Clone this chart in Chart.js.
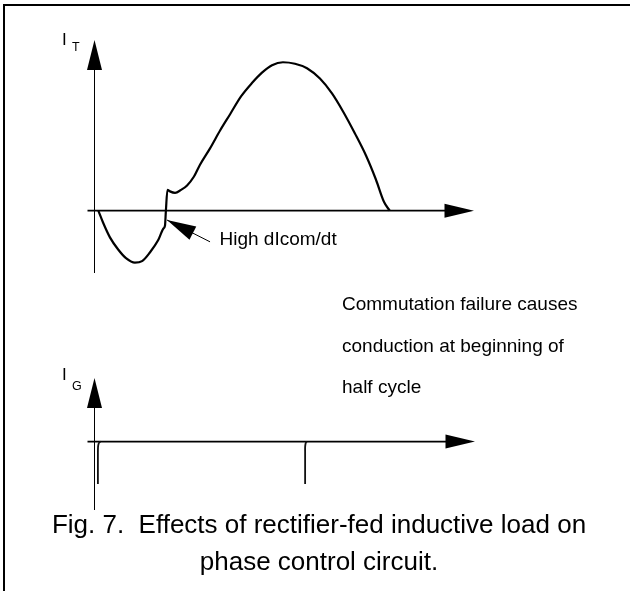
<!DOCTYPE html>
<html>
<head>
<meta charset="utf-8">
<script src="https://cdn.jsdelivr.net/npm/chart.js@4.4.1/dist/chart.umd.min.js"></script>
<style>
  html, body { margin: 0; padding: 0; background: #fff; }
  #figure { position: relative; width: 630px; height: 591px; overflow: hidden;
            font-family: "Liberation Sans", Arial, sans-serif; color: #000; }
  #frame { position: absolute; left: 3px; top: 4px; width: 700px; height: 700px;
           border-left: 2px solid #000; border-top: 2px solid #000; }
  canvas { position: absolute; left: 0; }
  .txt { position: absolute; white-space: nowrap; line-height: 1; z-index: 2; }
</style>
</head>
<body>
<div id="figure">
  <div id="frame"></div>
  <canvas id="itChart" width="630" height="300" style="top:0"></canvas>
  <canvas id="igChart" width="630" height="230" style="top:300px"></canvas>

  <div class="txt" style="left:62px; top:31px; font-size:17px">I</div>
  <div class="txt" style="left:72px; top:41px; font-size:12.5px">T</div>
  <div class="txt" style="left:62px; top:366px; font-size:17px">I</div>
  <div class="txt" style="left:72px; top:380px; font-size:12.5px">G</div>

  <div class="txt" style="left:219.5px; top:229px; font-size:19px">High dIcom/dt</div>
  <div class="txt" style="left:342px; top:283px; font-size:19px; line-height:41.5px">
    Commutation failure causes<br>conduction at beginning of<br>half cycle
  </div>

  <div class="txt" style="left:4px; width:630px; top:506px; font-size:26px; line-height:37px; text-align:center">
    Fig. 7.&nbsp; Effects of rectifier-fed inductive load on<br>phase control circuit.
  </div>
</div>

<script>
// courant anodique I_T (temps en ms, courant normalisé)
const itTime = [0.15, 0.36, 0.67, 1.03, 1.39, 1.79, 2.11, 2.47, 2.83, 3.07, 3.14, 3.18, 3.25,
                3.36, 3.59, 3.86, 4.13, 4.44, 4.71, 5.16, 5.61, 6.06, 6.55, 7.04, 7.49, 7.94,
                8.43, 8.97, 9.51, 10.09, 10.63, 11.12, 11.66, 12.16, 12.60, 12.96, 13.22];
const itValue = [0, -0.08, -0.18, -0.26, -0.32, -0.35, -0.34, -0.28, -0.20, -0.12, -0.10, 0, 0.14,
                 0.13, 0.12, 0.14, 0.17, 0.23, 0.31, 0.42, 0.54, 0.65, 0.77, 0.86, 0.93, 0.98,
                 1.0, 0.99, 0.96, 0.89, 0.79, 0.67, 0.52, 0.37, 0.21, 0.06, 0];

// impulsions de gâchette I_G, une liste par impulsion
const igPulse1Time = [0.25, 0.19, 0.155, 0.135, 0.13, 0.13];
const igPulse1Value = [0, -0.02, -0.06, -0.13, -0.25, -0.98];
const igPulse2Time = [9.47, 9.44, 9.415, 9.40, 9.40, 9.40];
const igPulse2Value = [0, -0.02, -0.06, -0.13, -0.25, -0.98];

// flèche "High dIcom/dt" : pointe et queue
const noteTip = [3.23, -0.063];
const noteTail = [5.16, -0.21];

// petite fonction pour dessiner une tête de flèche pleine
function arrowHead(ctx, tipX, tipY, fromX, fromY, len, half) {
    let ang = Math.atan2(tipY - fromY, tipX - fromX);
    let bx = tipX - len * Math.cos(ang);
    let by = tipY - len * Math.sin(ang);
    ctx.beginPath();
    ctx.moveTo(tipX, tipY);
    ctx.lineTo(bx + half * Math.sin(ang), by - half * Math.cos(ang));
    ctx.lineTo(bx - half * Math.sin(ang), by + half * Math.cos(ang));
    ctx.closePath();
    ctx.fill();
}

// axes avec flèches, dessinés depuis les échelles
const arrowAxes = {
    id: 'arrowAxes',
    beforeDatasetsDraw(chart) {
        const {ctx, chartArea, scales} = chart;
        let x0 = Math.round(scales.x.getPixelForValue(0)) - 0.5;
        let y0 = scales.y.getPixelForValue(0);
        ctx.save();
        ctx.fillStyle = '#000';
        ctx.strokeStyle = '#000';
        // axe vertical
        ctx.lineWidth = 1;
        ctx.beginPath();
        ctx.moveTo(x0, chartArea.bottom);
        ctx.lineTo(x0, chartArea.top + 20);
        ctx.stroke();
        arrowHead(ctx, x0, chartArea.top, x0, chartArea.bottom, 30, 7.5);
        // axe horizontal
        ctx.lineWidth = 1.6;
        ctx.beginPath();
        ctx.moveTo(x0 - 7, y0);
        ctx.lineTo(chartArea.right - 20, y0);
        ctx.stroke();
        arrowHead(ctx, chartArea.right, y0, x0, y0, 29.5, 7);
        ctx.restore();
    }
};

// annotation sur la courbe du haut
const noteArrow = {
    id: 'noteArrow',
    afterDatasetsDraw(chart) {
        const {ctx, scales} = chart;
        let tx = scales.x.getPixelForValue(noteTip[0]);
        let ty = scales.y.getPixelForValue(noteTip[1]);
        let qx = scales.x.getPixelForValue(noteTail[0]);
        let qy = scales.y.getPixelForValue(noteTail[1]);
        ctx.save();
        ctx.fillStyle = '#000';
        ctx.strokeStyle = '#000';
        ctx.lineWidth = 1;
        ctx.beginPath();
        ctx.moveTo(tx, ty);
        ctx.lineTo(qx, qy);
        ctx.stroke();
        arrowHead(ctx, tx, ty, qx, qy, 29, 7.5);
        ctx.restore();
    }
};

function baseOptions(yMin, yMax, pad) {
    return {
        responsive: false,
        animation: false,
        layout: { padding: pad },
        plugins: { legend: { display: false }, tooltip: { enabled: false } },
        elements: { point: { radius: 0 } },
        scales: {
            x: { type: 'linear', min: 0, max: 17, display: false },
            y: { min: yMin, max: yMax, display: false }
        }
    };
}

function pulseDataset(times, values) {
    return {
        data: times.map((t, i) => ({ x: t, y: values[i] })),
        borderColor: '#111',
        borderWidth: 1.8,
        tension: 0.2,
        clip: false,
        fill: false
    };
}

new Chart(document.getElementById('itChart'), {
    type: 'line',
    data: {
        datasets: [{
            data: itTime.map((t, i) => ({ x: t, y: itValue[i] })),
            borderColor: '#000',
            borderWidth: 2.2,
            cubicInterpolationMode: 'monotone',
            fill: false
        }]
    },
    options: baseOptions(-0.42, 1.15, { left: 95, right: 156, top: 40, bottom: 27 }),
    plugins: [arrowAxes, noteArrow]
});

new Chart(document.getElementById('igChart'), {
    type: 'line',
    data: {
        datasets: [
            pulseDataset(igPulse1Time, igPulse1Value),
            pulseDataset(igPulse2Time, igPulse2Value)
        ]
    },
    options: baseOptions(-1.58, 1.47, { left: 95, right: 155, top: 78, bottom: 20 }),
    plugins: [arrowAxes]
});
</script>
</body>
</html>
